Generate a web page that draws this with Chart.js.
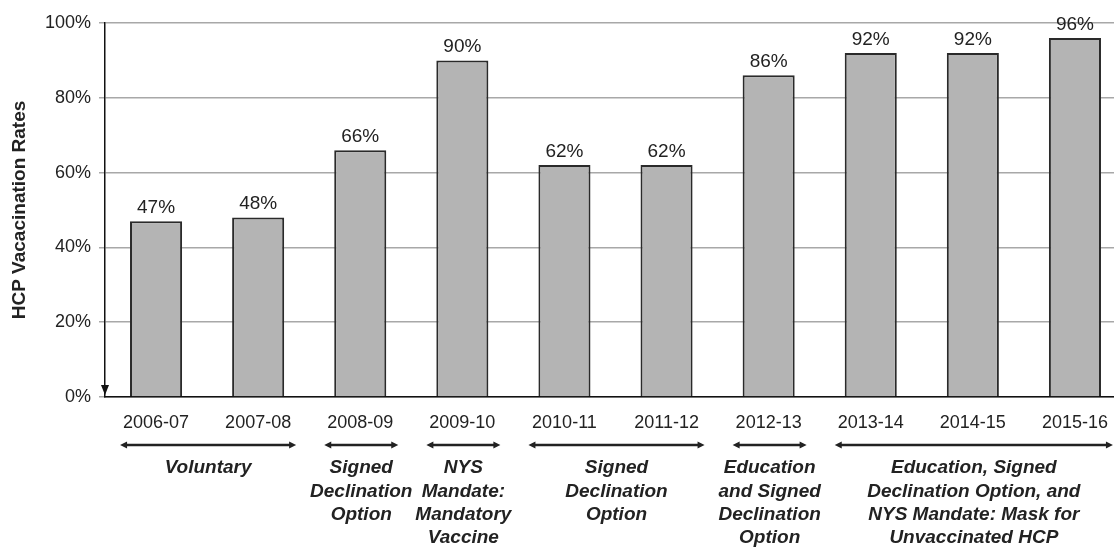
<!DOCTYPE html>
<html lang="en">
<head>
  <meta charset="UTF-8" />
  <title>HCP Vaccination Rates</title>
  <script src="https://cdn.jsdelivr.net/npm/chart.js"></script>
  <style>
    body{margin:0;background:#fff;overflow:hidden;}
    #wrap{width:1130px;height:550px;}
  </style>
</head>
<body>
  <div id="wrap"><canvas id="chart"></canvas></div>
  <script>
    const seasons = ['2006-07','2007-08','2008-09','2009-10','2010-11','2011-12','2012-13','2013-14','2014-15','2015-16'];
    const rates = [47, 48, 66, 90, 62, 62, 86, 92, 92, 96];
    const yTicks = [0, 20, 40, 60, 80, 100];

    // policy periods: first and last season index, label lines
    const groupStart = [0, 2, 3, 4, 6, 7];
    const groupEnd = [1, 2, 3, 5, 6, 9];
    const groupLabels = [
      ['Voluntary'],
      ['Signed', 'Declination', 'Option'],
      ['NYS', 'Mandate:', 'Mandatory', 'Vaccine'],
      ['Signed', 'Declination', 'Option'],
      ['Education', 'and Signed', 'Declination', 'Option'],
      ['Education, Signed', 'Declination Option, and', 'NYS Mandate: Mask for', 'Unvaccinated HCP']
    ];

    const FONT = '"Liberation Sans", Arial, sans-serif';

    const extras = {
      id: 'extras',
      afterDatasetsDraw(chart) {
        const ctx = chart.ctx, x = chart.scales.x, y = chart.scales.y;
        ctx.save();
        // value labels
        ctx.fillStyle = '#222';
        ctx.font = '19px ' + FONT;
        ctx.textAlign = 'center';
        ctx.textBaseline = 'bottom';
        chart.getDatasetMeta(0).data.forEach((bar, i) => {
          ctx.fillText(rates[i] + '%', bar.x, bar.y - 4);
        });
        // little arrowhead on the y axis
        const ax = chart.chartArea.left, ab = y.getPixelForValue(0);
        ctx.fillStyle = '#111';
        ctx.beginPath();
        ctx.moveTo(ax - 4, ab - 12);
        ctx.lineTo(ax + 4, ab - 12);
        ctx.lineTo(ax, ab - 2);
        ctx.closePath();
        ctx.fill();
        // period arrows and labels
        const ay = ab + 48;
        groupStart.forEach((s, g) => {
          const x1 = x.getPixelForValue(s) - 36;
          const x2 = x.getPixelForValue(groupEnd[g]) + 38;
          ctx.strokeStyle = '#222';
          ctx.lineWidth = 2.5;
          ctx.beginPath();
          ctx.moveTo(x1 + 4, ay);
          ctx.lineTo(x2 - 4, ay);
          ctx.stroke();
          ctx.fillStyle = '#222';
          [[x1, 1], [x2, -1]].forEach(([px, d]) => {
            ctx.beginPath();
            ctx.moveTo(px, ay);
            ctx.lineTo(px + 7 * d, ay - 3.5);
            ctx.lineTo(px + 7 * d, ay + 3.5);
            ctx.closePath();
            ctx.fill();
          });
          const cx = (x1 + x2) / 2;
          ctx.font = 'italic bold 19px ' + FONT;
          ctx.textBaseline = 'middle';
          groupLabels[g].forEach((line, k) => {
            ctx.fillText(line, cx, ay + 23 + k * 23.4);
          });
        });
        ctx.restore();
      }
    };

    new Chart(document.getElementById('chart'), {
      type: 'bar',
      data: {
        labels: seasons,
        datasets: [{
          data: rates,
          backgroundColor: '#b4b4b4',
          borderColor: '#2a2a2a',
          borderWidth: 2,
          categoryPercentage: 1,
          barPercentage: 0.51
        }]
      },
      options: {
        responsive: true,
        maintainAspectRatio: false,
        animation: false,
        layout: { padding: { top: 23, right: 4, bottom: 113, left: 0 } },
        plugins: { legend: { display: false }, tooltip: { enabled: false } },
        scales: {
          x: {
            afterFit(axis) { axis.height = 40; },
            grid: { display: false },
            border: { color: '#111', width: 1.5 },
            ticks: { color: '#222', font: { size: 18, family: FONT }, padding: 7, maxRotation: 0, autoSkip: false }
          },
          y: {
            min: 0, max: 100,
            afterFit(axis) { axis.width = 105; },
            afterBuildTicks(axis) { axis.ticks = yTicks.map(v => ({ value: v })); },
            grid: { color: '#a8a8a8', lineWidth: 1.5, tickLength: 6 },
            border: { color: '#111', width: 1.5 },
            ticks: { color: '#222', font: { size: 18, family: FONT }, padding: 8, callback: v => v + '%' },
            title: { display: true, text: 'HCP Vacacination Rates', color: '#222', font: { size: 19, weight: 'bold', family: FONT }, padding: { top: 8, bottom: 0 } }
          }
        }
      },
      plugins: [extras]
    });
  </script>
</body>
</html>
